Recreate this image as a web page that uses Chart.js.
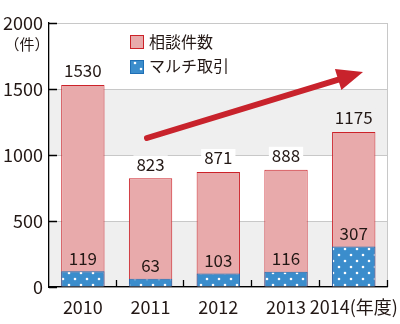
<!DOCTYPE html>
<html>
<head>
<meta charset="utf-8">
<script src="https://cdn.jsdelivr.net/npm/chart.js@4"></script>
<style>
  html, body { margin: 0; padding: 0; background: #fff; }
  #wrap { width: 400px; height: 324px; }
</style>
</head>
<body>
<div id="wrap"><canvas id="consultChart" width="400" height="324"></canvas></div>
<script>
// Data for the chart
const years = ['2010', '2011', '2012', '2013', '2014(年度)'];
const consultCounts = [1530, 823, 871, 888, 1175];   // 相談件数
const multiCounts = [119, 63, 103, 116, 307];         // マルチ取引
const yTicks = [0, 500, 1000, 1500, 2000];

const FONT = '"Noto Sans CJK JP", "Noto Sans", sans-serif';
const TEXT = '#231815';
const PINK = '#e8aaab';
const PINK_EDGE = '#cc2229';
const BLUE = '#3b8dcc';
const BLUE_EDGE = '#1f6fb5';
const BAND = '#efefef';

// blue with white dots
function dotPattern() {
  const c = document.createElement('canvas');
  c.width = 12; c.height = 12;
  const g = c.getContext('2d');
  g.fillStyle = BLUE;
  g.fillRect(0, 0, 12, 12);
  g.fillStyle = '#fff';
  [[3, 3], [9, 9]].forEach(([x, y]) => {
    g.beginPath();
    g.arc(x, y, 1.3, 0, Math.PI * 2);
    g.fill();
  });
  return g.createPattern(c, 'repeat');
}
const dots = dotPattern();

// grey bands behind the grid
const bands = {
  id: 'bands',
  beforeDraw(chart) {
    const { ctx, chartArea: a, scales: { y } } = chart;
    ctx.save();
    ctx.fillStyle = BAND;
    [[0, 500], [1000, 1500]].forEach(([lo, hi]) => {
      const top = y.getPixelForValue(hi), bot = y.getPixelForValue(lo);
      ctx.fillRect(a.left, top, a.right - a.left, bot - top);
    });
    ctx.restore();
  }
};

// axis ticks, right border, unit title, legend, value labels and trend arrow
const extras = {
  id: 'extras',
  afterDraw(chart) {
    const { ctx, chartArea: a, scales: { x, y } } = chart;
    ctx.save();

    // right border
    ctx.strokeStyle = '#c8c8c8';
    ctx.lineWidth = 1;
    ctx.beginPath();
    ctx.moveTo(Math.round(a.right) - 0.5, a.top);
    ctx.lineTo(Math.round(a.right) - 0.5, a.bottom);
    ctx.stroke();

    // inward ticks
    ctx.strokeStyle = '#000';
    ctx.lineWidth = 1.3;
    ctx.beginPath();
    yTicks.forEach(v => {
      const py = Math.round(y.getPixelForValue(v)) + 0.5;
      ctx.moveTo(a.left, py);
      ctx.lineTo(a.left + 8, py);
    });
    const step = (a.right - a.left) / years.length;
    for (let i = 1; i <= years.length; i++) {
      const px = Math.round(a.left + step * i) - 0.5;
      ctx.moveTo(px, a.bottom);
      ctx.lineTo(px, a.bottom - 7);
    }
    ctx.stroke();

    // unit
    ctx.fillStyle = TEXT;
    ctx.font = '15px ' + FONT;
    ctx.textAlign = 'center';
    ctx.textBaseline = 'middle';
    ctx.fillText('（件）', 27, 44);

    // legend
    ctx.textAlign = 'left';
    ctx.font = '16px ' + FONT;
    ctx.fillStyle = PINK;
    ctx.fillRect(130.5, 35.5, 13, 13);
    ctx.strokeStyle = PINK_EDGE;
    ctx.lineWidth = 1;
    ctx.strokeRect(130.5, 35.5, 13, 13);
    ctx.fillStyle = TEXT;
    ctx.fillText('相談件数', 149, 42);
    ctx.fillStyle = dots;
    ctx.fillRect(130.5, 60.5, 13, 13);
    ctx.strokeStyle = BLUE_EDGE;
    ctx.strokeRect(130.5, 60.5, 13, 13);
    ctx.fillStyle = TEXT;
    ctx.fillText('マルチ取引', 149, 66);

    // value labels
    ctx.font = '17px ' + FONT;
    ctx.textAlign = 'center';
    const pinkMeta = chart.getDatasetMeta(0);
    const blueMeta = chart.getDatasetMeta(1);
    consultCounts.forEach((v, i) => {
      const bar = pinkMeta.data[i];
      const ly = bar.y - 14;
      const w = ctx.measureText(String(v)).width + 6;
      const band = Math.floor(y.getValueForPixel(ly) / 500);
      ctx.fillStyle = band % 2 === 0 ? BAND : '#fff';
      ctx.fillRect(bar.x - w / 2, ly - 9, w, 18);
      ctx.fillStyle = TEXT;
      ctx.fillText(String(v), bar.x, ly);
    });
    multiCounts.forEach((v, i) => {
      const bar = blueMeta.data[i];
      ctx.fillText(String(v), bar.x, bar.y - 13);
    });

    // trend arrow
    const x0 = 147, y0 = 138, x1 = 363, y1 = 72;
    const ang = Math.atan2(y1 - y0, x1 - x0);
    const head = 26, half = 11;
    const bx = x1 - head * Math.cos(ang), by = y1 - head * Math.sin(ang);
    ctx.strokeStyle = '#c8232c';
    ctx.fillStyle = '#c8232c';
    ctx.lineWidth = 6;
    ctx.lineCap = 'round';
    ctx.beginPath();
    ctx.moveTo(x0, y0);
    ctx.lineTo(bx + 2 * Math.cos(ang), by + 2 * Math.sin(ang));
    ctx.stroke();
    ctx.beginPath();
    ctx.moveTo(x1, y1);
    ctx.lineTo(bx + half * Math.sin(ang), by - half * Math.cos(ang));
    ctx.lineTo(bx - half * Math.sin(ang), by + half * Math.cos(ang));
    ctx.closePath();
    ctx.fill();

    ctx.restore();
  }
};

const ctx = document.getElementById('consultChart').getContext('2d');
const consultChart = new Chart(ctx, {
  type: 'bar',
  data: {
    labels: years,
    datasets: [{
      label: '相談件数',
      data: consultCounts,
      backgroundColor: PINK,
      borderColor: PINK_EDGE,
      borderWidth: 1,
      grouped: false,
      order: 1
    }, {
      label: 'マルチ取引',
      data: multiCounts,
      backgroundColor: dots,
      borderColor: BLUE_EDGE,
      borderWidth: 1,
      grouped: false,
      order: 0
    }]
  },
  options: {
    responsive: false,
    animation: false,
    events: [],
    barPercentage: 0.64,
    categoryPercentage: 1,
    layout: { padding: { top: 23, right: 12, left: 0, bottom: 0 } },
    plugins: { legend: { display: false }, tooltip: { enabled: false } },
    scales: {
      x: {
        grid: { display: false },
        border: { color: '#000', width: 1.3 },
        ticks: { color: TEXT, font: { family: FONT, size: 18 }, padding: 1, maxRotation: 0, autoSkip: false },
        afterFit(s) { s.height = 37; }
      },
      y: {
        min: 0,
        max: 2000,
        afterBuildTicks(s) { s.ticks = yTicks.map(v => ({ value: v })); },
        grid: { color: '#c8c8c8', drawTicks: false },
        border: { color: '#000', width: 1.3 },
        ticks: { color: TEXT, font: { family: FONT, size: 18 }, padding: 6, callback: v => String(v) },
        afterFit(s) { s.width = 49; }
      }
    }
  },
  plugins: [bands, extras]
});
</script>
</body>
</html>
